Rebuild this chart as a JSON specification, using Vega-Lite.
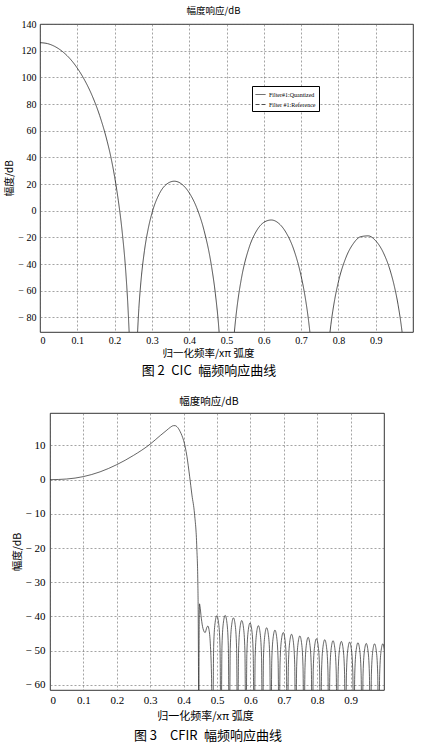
{
  "$schema": "https://vega.github.io/schema/vega-lite/v6.json",
  "padding": {"left": 4, "top": 5, "right": 5, "bottom": 5},
  "background": "white",
  "config": {
    "view": {"stroke": "black", "strokeWidth": 0.8},
    "axis": {"grid": true, "gridColor": "#666", "gridDash": [2, 2], "gridWidth": 0.6, "domain": false, "ticks": false,
      "labelFont": "Liberation Serif", "labelColor": "black", "titleFont": "Noto Sans CJK SC", "titleFontWeight": "normal", "titleColor": "black"},
    "title": {"font": "Noto Sans CJK SC", "fontWeight": "normal", "color": "black"}
  },
  "datasets": {
    "cic": [
      {"f": 0, "m": 126}, {"f": 0.02, "m": 125.3}, {"f": 0.04, "m": 123.1}, {"f": 0.06, "m": 119.4}, {"f": 0.08, "m": 114.1},
      {"f": 0.1, "m": 106.9}, {"f": 0.12, "m": 97.7}, {"f": 0.14, "m": 86.1}, {"f": 0.16, "m": 71.3}, {"f": 0.18, "m": 52.1},
      {"f": 0.19, "m": 40.2}, {"f": 0.2, "m": 25.5}, {"f": 0.21, "m": 7.5}, {"f": 0.22, "m": -15}, {"f": 0.23, "m": -46},
      {"f": 0.235, "m": -68}, {"f": 0.24, "m": -97}, {"f": 0.25, "m": -160},
      {"f": 0.26, "m": -100}, {"f": 0.265, "m": -73.4}, {"f": 0.27, "m": -55}, {"f": 0.28, "m": -30.1}, {"f": 0.29, "m": -13.7},
      {"f": 0.3, "m": -2}, {"f": 0.32, "m": 12.7}, {"f": 0.34, "m": 20}, {"f": 0.36, "m": 22.1}, {"f": 0.38, "m": 19.9},
      {"f": 0.4, "m": 13.4}, {"f": 0.42, "m": 2.3}, {"f": 0.44, "m": -15}, {"f": 0.46, "m": -42}, {"f": 0.47, "m": -61.9},
      {"f": 0.48, "m": -90.4}, {"f": 0.49, "m": -138}, {"f": 0.5, "m": -200},
      {"f": 0.51, "m": -141}, {"f": 0.52, "m": -94.7}, {"f": 0.525, "m": -80.1}, {"f": 0.53, "m": -68.5}, {"f": 0.54, "m": -50.8},
      {"f": 0.56, "m": -28.2}, {"f": 0.58, "m": -15.4}, {"f": 0.6, "m": -8.8}, {"f": 0.62, "m": -7}, {"f": 0.64, "m": -9.5},
      {"f": 0.66, "m": -16.6}, {"f": 0.68, "m": -28.9}, {"f": 0.7, "m": -49}, {"f": 0.71, "m": -63.3}, {"f": 0.72, "m": -82.5},
      {"f": 0.725, "m": -94.9}, {"f": 0.74, "m": -150}, {"f": 0.75, "m": -200},
      {"f": 0.76, "m": -150}, {"f": 0.775, "m": -97.2}, {"f": 0.78, "m": -85.2}, {"f": 0.79, "m": -66.8}, {"f": 0.8, "m": -53.4},
      {"f": 0.82, "m": -35.3}, {"f": 0.84, "m": -24.7}, {"f": 0.86, "m": -19.5}, {"f": 0.88, "m": -18.9}, {"f": 0.9, "m": -22.6},
      {"f": 0.92, "m": -31.2}, {"f": 0.94, "m": -46}, {"f": 0.95, "m": -56.7}, {"f": 0.96, "m": -70.6}, {"f": 0.97, "m": -89.4},
      {"f": 0.975, "m": -101.5}, {"f": 0.99, "m": -150}, {"f": 1.0, "m": -200}
    ],
    "cfir": [
      {"f": 0, "m": 0}, {"f": 0.05, "m": 0.2}, {"f": 0.1, "m": 0.9}, {"f": 0.15, "m": 2.3}, {"f": 0.2, "m": 4.4},
      {"f": 0.25, "m": 7.1}, {"f": 0.3, "m": 10.4}, {"f": 0.33, "m": 12.9}, {"f": 0.35, "m": 14.5}, {"f": 0.36, "m": 15.3},
      {"f": 0.37, "m": 15.8}, {"f": 0.375, "m": 15.8}, {"f": 0.38, "m": 15.5}, {"f": 0.385, "m": 14.9}, {"f": 0.39, "m": 14.0},
      {"f": 0.395, "m": 12.9}, {"f": 0.4, "m": 11.5}, {"f": 0.405, "m": 9.5}, {"f": 0.41, "m": 6.8}, {"f": 0.418, "m": 1},
      {"f": 0.425, "m": -4.5}, {"f": 0.4327, "m": -10}, {"f": 0.4396, "m": -20}, {"f": 0.4426, "m": -30}, {"f": 0.4438, "m": -40},
      {"f": 0.4448, "m": -60}, {"f": 0.4455, "m": -75},
      {"f": 0.4462, "m": -52}, {"f": 0.447, "m": -39}, {"f": 0.4477, "m": -36.3}, {"f": 0.449, "m": -37}, {"f": 0.453, "m": -40.5},
      {"f": 0.458, "m": -43.5}, {"f": 0.4645, "m": -44.7}, {"f": 0.4695, "m": -43.2}, {"f": 0.4726, "m": -42.8}, {"f": 0.476, "m": -43.8},
      {"f": 0.48, "m": -48}, {"f": 0.4835, "m": -57}, {"f": 0.4871, "m": -80},
      {"f": 0.49, "m": -48.7}, {"f": 0.4945, "m": -41.7}, {"f": 0.4995, "m": -39.8}, {"f": 0.5045, "m": -41.7}, {"f": 0.509, "m": -48.7}, {"f": 0.512, "m": -80},
      {"f": 0.5149, "m": -48.6}, {"f": 0.5194, "m": -41.6}, {"f": 0.5244, "m": -39.7}, {"f": 0.5294, "m": -41.6}, {"f": 0.5339, "m": -48.6}, {"f": 0.5368, "m": -80},
      {"f": 0.5397, "m": -49.3}, {"f": 0.5442, "m": -42.3}, {"f": 0.5492, "m": -40.4}, {"f": 0.5542, "m": -42.3}, {"f": 0.5587, "m": -49.3}, {"f": 0.5617, "m": -80},
      {"f": 0.5646, "m": -50.1}, {"f": 0.5691, "m": -43.1}, {"f": 0.5741, "m": -41.2}, {"f": 0.5791, "m": -43.1}, {"f": 0.5836, "m": -50.1}, {"f": 0.5865, "m": -80},
      {"f": 0.5894, "m": -50.8}, {"f": 0.5939, "m": -43.8}, {"f": 0.5989, "m": -41.9}, {"f": 0.6039, "m": -43.8}, {"f": 0.6084, "m": -50.8}, {"f": 0.6114, "m": -80},
      {"f": 0.6143, "m": -51.6}, {"f": 0.6188, "m": -44.6}, {"f": 0.6238, "m": -42.7}, {"f": 0.6288, "m": -44.6}, {"f": 0.6333, "m": -51.6}, {"f": 0.6362, "m": -80},
      {"f": 0.6391, "m": -52.2}, {"f": 0.6436, "m": -45.2}, {"f": 0.6486, "m": -43.3}, {"f": 0.6536, "m": -45.2}, {"f": 0.6581, "m": -52.2}, {"f": 0.6611, "m": -80},
      {"f": 0.664, "m": -52.9}, {"f": 0.6685, "m": -45.9}, {"f": 0.6735, "m": -44.0}, {"f": 0.6785, "m": -45.9}, {"f": 0.683, "m": -52.9}, {"f": 0.6859, "m": -80},
      {"f": 0.6888, "m": -53.6}, {"f": 0.6933, "m": -46.6}, {"f": 0.6983, "m": -44.7}, {"f": 0.7033, "m": -46.6}, {"f": 0.7078, "m": -53.6}, {"f": 0.7108, "m": -80},
      {"f": 0.7137, "m": -54.1}, {"f": 0.7182, "m": -47.1}, {"f": 0.7232, "m": -45.2}, {"f": 0.7282, "m": -47.1}, {"f": 0.7327, "m": -54.1}, {"f": 0.7356, "m": -80},
      {"f": 0.7385, "m": -54.6}, {"f": 0.743, "m": -47.6}, {"f": 0.748, "m": -45.7}, {"f": 0.753, "m": -47.6}, {"f": 0.7575, "m": -54.6}, {"f": 0.7605, "m": -80},
      {"f": 0.7634, "m": -55.0}, {"f": 0.7679, "m": -48.0}, {"f": 0.7729, "m": -46.1}, {"f": 0.7779, "m": -48.0}, {"f": 0.7824, "m": -55.0}, {"f": 0.7853, "m": -80},
      {"f": 0.7882, "m": -55.4}, {"f": 0.7927, "m": -48.4}, {"f": 0.7977, "m": -46.5}, {"f": 0.8027, "m": -48.4}, {"f": 0.8072, "m": -55.4}, {"f": 0.8102, "m": -80},
      {"f": 0.8131, "m": -55.7}, {"f": 0.8176, "m": -48.7}, {"f": 0.8226, "m": -46.8}, {"f": 0.8276, "m": -48.7}, {"f": 0.8321, "m": -55.7}, {"f": 0.835, "m": -80},
      {"f": 0.8379, "m": -56.0}, {"f": 0.8424, "m": -49.0}, {"f": 0.8474, "m": -47.1}, {"f": 0.8524, "m": -49.0}, {"f": 0.8569, "m": -56.0}, {"f": 0.8599, "m": -80},
      {"f": 0.8628, "m": -56.2}, {"f": 0.8673, "m": -49.2}, {"f": 0.8723, "m": -47.3}, {"f": 0.8773, "m": -49.2}, {"f": 0.8818, "m": -56.2}, {"f": 0.8847, "m": -80},
      {"f": 0.8876, "m": -56.4}, {"f": 0.8921, "m": -49.4}, {"f": 0.8971, "m": -47.5}, {"f": 0.9021, "m": -49.4}, {"f": 0.9066, "m": -56.4}, {"f": 0.9096, "m": -80},
      {"f": 0.9125, "m": -56.6}, {"f": 0.917, "m": -49.6}, {"f": 0.922, "m": -47.7}, {"f": 0.927, "m": -49.6}, {"f": 0.9315, "m": -56.6}, {"f": 0.9344, "m": -80},
      {"f": 0.9373, "m": -56.8}, {"f": 0.9418, "m": -49.8}, {"f": 0.9468, "m": -47.9}, {"f": 0.9518, "m": -49.8}, {"f": 0.9563, "m": -56.8}, {"f": 0.9593, "m": -80},
      {"f": 0.9622, "m": -56.9}, {"f": 0.9667, "m": -49.9}, {"f": 0.9717, "m": -48.0}, {"f": 0.9767, "m": -49.9}, {"f": 0.9812, "m": -56.9}, {"f": 0.9841, "m": -80},
      {"f": 0.987, "m": -56.9}, {"f": 0.9915, "m": -49.9}, {"f": 0.9965, "m": -48.0}, {"f": 1.0015, "m": -49.9}
    ]
  },
  "spacing": 18,
  "vconcat": [
    {
      "title": {"text": "图 2\u2002CIC\u2002幅频响应曲线", "orient": "bottom", "anchor": "middle", "fontSize": 13, "offset": 6, "dx": 0},
      "vconcat": [
        {
          "width": 373, "height": 308,
          "title": {"text": "幅度响应/dB", "fontSize": 9.5, "offset": 4, "anchor": "middle", "dx": -13},
          "data": {"name": "cic"},
          "mark": {"type": "line", "clip": true, "color": "#222", "strokeWidth": 0.8, "interpolate": "monotone"},
          "encoding": {
            "x": {"field": "f", "type": "quantitative", "scale": {"domain": [0, 1], "nice": false},
              "axis": {"values": [0, 0.1, 0.2, 0.3, 0.4, 0.5, 0.6, 0.7, 0.8, 0.9], "labelExpr": "datum.value == 0 ? '0' : format(datum.value, '.1f')",
                "labelFontSize": 10, "labelPadding": 3, "title": "归一化频率/xπ 弧度", "titleFontSize": 10.5, "titlePadding": 3, "titleX": 168}},
            "y": {"field": "m", "type": "quantitative", "scale": {"domain": [-91, 140], "nice": false, "zero": false},
              "axis": {"values": [-80, -60, -40, -20, 0, 20, 40, 60, 80, 100, 120, 140], "labelExpr": "datum.value < 0 ? '− ' + format(-datum.value, 'd') : format(datum.value, 'd')",
                "labelFontSize": 10, "labelPadding": 4, "title": "幅度/dB", "titleFontSize": 10, "titlePadding": 3}},
            "strokeDash": {"datum": "Filter#1:Quantized", "type": "nominal",
              "scale": {"domain": ["Filter#1:Quantized", "Filter #1:Reference"], "range": [[1, 0], [4, 2]]},
              "legend": {"orient": "none", "legendX": 212, "legendY": 62, "title": null, "strokeColor": "black", "fillColor": "white",
                "padding": 3, "labelFont": "Liberation Serif", "labelFontSize": 6, "labelColor": "black", "symbolType": "stroke", "symbolSize": 100,
                "symbolStrokeWidth": 0.8, "symbolStrokeColor": "#222", "rowPadding": 1, "labelOffset": 3}}
          }
        }
      ]
    },
    {
      "title": {"text": "图 3\u2002\u2002CFIR\u2002幅频响应曲线", "orient": "bottom", "anchor": "middle", "fontSize": 13, "offset": 9, "dx": 10},
      "spacing": -30,
      "hconcat": [
        {"width": 1, "height": 1, "mark": "point", "data": {"values": []}, "view": {"stroke": null}},
        {
          "width": 334, "height": 277,
          "title": {"text": "幅度响应/dB", "fontSize": 10.5, "offset": 6, "anchor": "middle", "dx": -8},
          "data": {"name": "cfir"},
          "mark": {"type": "line", "clip": true, "color": "#222", "strokeWidth": 0.7, "interpolate": "monotone"},
          "encoding": {
            "x": {"field": "f", "type": "quantitative", "scale": {"domain": [0, 1], "nice": false},
              "axis": {"values": [0, 0.1, 0.2, 0.3, 0.4, 0.5, 0.6, 0.7, 0.8, 0.9], "labelExpr": "datum.value == 0 ? '0' : format(datum.value, '.1f')",
                "labelFontSize": 11, "labelPadding": 4, "title": "归一化频率/xπ 弧度", "titleFontSize": 11, "titlePadding": 5, "titleX": 155}},
            "y": {"field": "m", "type": "quantitative", "scale": {"domain": [-61.5, 19.5], "nice": false, "zero": false},
              "axis": {"values": [-60, -50, -40, -30, -20, -10, 0, 10], "labelExpr": "datum.value < 0 ? '− ' + format(-datum.value, 'd') : format(datum.value, 'd')",
                "labelFontSize": 11, "labelPadding": 5, "title": "幅度/dB", "titleFontSize": 10.5, "titlePadding": 3}}
          }
        }
      ]
    }
  ]
}
